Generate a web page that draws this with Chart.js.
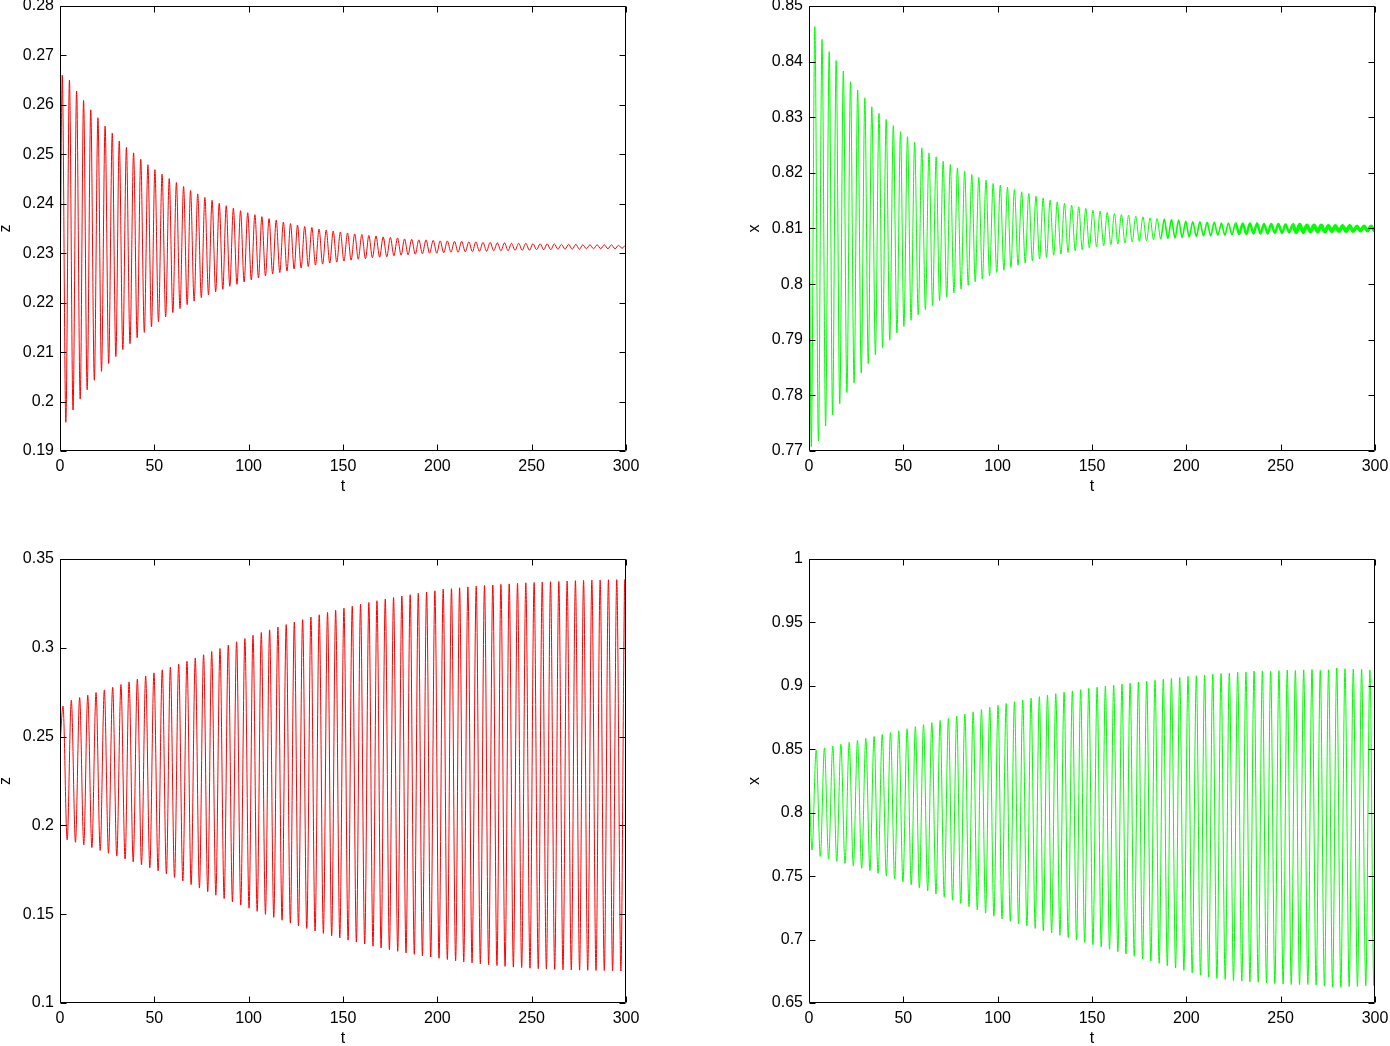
<!DOCTYPE html>
<html lang="en">
<head>
<meta charset="UTF-8">
<title>z and x against t</title>
<script src="https://cdn.jsdelivr.net/npm/chart.js"></script>
<style>
  html, body { margin: 0; padding: 0; background: #fff; overflow: hidden; }
  body { width: 1390px; height: 1046px; position: relative; }
  canvas { position: absolute; }
</style>
</head>
<body>
<canvas id="c1" width="652" height="500" style="left:-2px;top:0"></canvas>
<canvas id="c2" width="650" height="500" style="left:740px;top:0"></canvas>
<canvas id="c3" width="652" height="500" style="left:-2px;top:550px"></canvas>
<canvas id="c4" width="650" height="500" style="left:740px;top:550px"></canvas>
<script>
// times of the turning points (start, extremes..., end), top row and bottom row
const topT = [0, 1.2, 3.1, 5.0, 6.9, 8.8, 10.7, 12.5, 14.4, 16.3, 18.2, 20.1, 22.0, 23.9, 25.8, 27.7, 29.6, 31.4, 33.3, 35.2, 37.1,
  39.0, 40.9, 42.8, 44.7, 46.6, 48.5, 50.3, 52.2, 54.1, 56.0, 57.9, 59.8, 61.7, 63.6, 65.5, 67.4, 69.2, 71.1, 73.0, 74.9,
  76.8, 78.7, 80.6, 82.5, 84.4, 86.3, 88.1, 90.0, 91.9, 93.8, 95.7, 97.6, 99.5, 101.4, 103.3, 105.2, 107.0, 108.9, 110.8, 112.7,
  114.6, 116.5, 118.4, 120.3, 122.2, 124.1, 125.9, 127.8, 129.7, 131.6, 133.5, 135.4, 137.3, 139.2, 141.1, 143.0, 144.8, 146.7, 148.6, 150.5,
  152.4, 154.3, 156.2, 158.1, 160.0, 161.9, 163.7, 165.6, 167.5, 169.4, 171.3, 173.2, 175.1, 177.0, 178.9, 180.8, 182.6, 184.5, 186.4, 188.3,
  190.2, 192.1, 194.0, 195.9, 197.8, 199.7, 201.5, 203.4, 205.3, 207.2, 209.1, 211.0, 212.9, 214.8, 216.7, 218.6, 220.4, 222.3, 224.2, 226.1,
  228.0, 229.9, 231.8, 233.7, 235.6, 237.5, 239.3, 241.2, 243.1, 245.0, 246.9, 248.8, 250.7, 252.6, 254.5, 256.4, 258.2, 260.1, 262.0, 263.9,
  265.8, 267.7, 269.6, 271.5, 273.4, 275.3, 277.1, 279.0, 280.9, 282.8, 284.7, 286.6, 288.5, 290.4, 292.3, 294.2, 296.0, 297.9, 299.8, 300];

const botT = [0, 1.6, 3.8, 6.0, 8.2, 10.4, 12.6, 14.7, 16.9, 19.1, 21.3, 23.5, 25.7, 27.9, 30.1, 32.3, 34.5, 36.6, 38.8, 41.0, 43.2,
  45.4, 47.6, 49.8, 52.0, 54.2, 56.4, 58.5, 60.7, 62.9, 65.1, 67.3, 69.5, 71.7, 73.9, 76.1, 78.3, 80.4, 82.6, 84.8, 87.0,
  89.2, 91.4, 93.6, 95.8, 98.0, 100.2, 102.3, 104.5, 106.7, 108.9, 111.1, 113.3, 115.5, 117.7, 119.9, 122.1, 124.2, 126.4, 128.6, 130.8,
  133.0, 135.2, 137.4, 139.6, 141.8, 144.0, 146.1, 148.3, 150.5, 152.7, 154.9, 157.1, 159.3, 161.5, 163.7, 165.9, 168.0, 170.2, 172.4, 174.6,
  176.8, 179.0, 181.2, 183.4, 185.6, 187.8, 189.9, 192.1, 194.3, 196.5, 198.7, 200.9, 203.1, 205.3, 207.5, 209.7, 211.8, 214.0, 216.2, 218.4,
  220.6, 222.8, 225.0, 227.2, 229.4, 231.6, 233.7, 235.9, 238.1, 240.3, 242.5, 244.7, 246.9, 249.1, 251.3, 253.5, 255.6, 257.8, 260.0, 262.2,
  264.4, 266.6, 268.8, 271.0, 273.2, 275.4, 277.5, 279.7, 281.9, 284.1, 286.3, 288.5, 290.7, 292.9, 295.1, 297.3, 299.4, 300];

// top left: z, decaying
const zTopStart = 0.22, zTopEnd = 0.2316;
const zTopPeaks = [0.2660, 0.2650, 0.2628, 0.2609, 0.2590, 0.2574, 0.2557, 0.2543, 0.2527, 0.2514,
  0.2503, 0.2490, 0.2479, 0.2469, 0.2460, 0.2451, 0.2443, 0.2435, 0.2427, 0.2420,
  0.2413, 0.2407, 0.2401, 0.2396, 0.2391, 0.2386, 0.2382, 0.2378, 0.2374, 0.2370,
  0.2367, 0.2363, 0.2360, 0.2357, 0.2354, 0.2352, 0.2349, 0.2347, 0.2345, 0.2343,
  0.2341, 0.2339, 0.2338, 0.2336, 0.2335, 0.2333, 0.2332, 0.2331, 0.2329, 0.2328,
  0.2327, 0.2327, 0.2326, 0.2325, 0.2325, 0.2324, 0.2324, 0.2323, 0.2323, 0.2322,
  0.2322, 0.2321, 0.2321, 0.2320, 0.2320, 0.2320, 0.2319, 0.2319, 0.2319, 0.2319,
  0.2318, 0.2318, 0.2318, 0.2317, 0.2317, 0.2317, 0.2317, 0.2317, 0.2316, 0.2316];
const zTopTroughs = [0.1958, 0.1983, 0.2005, 0.2024, 0.2043, 0.2061, 0.2077, 0.2091, 0.2105, 0.2117,
  0.2129, 0.2140, 0.2151, 0.2161, 0.2171, 0.2180, 0.2188, 0.2196, 0.2203, 0.2210,
  0.2216, 0.2222, 0.2227, 0.2233, 0.2237, 0.2242, 0.2246, 0.2250, 0.2254, 0.2258,
  0.2261, 0.2264, 0.2268, 0.2270, 0.2273, 0.2276, 0.2278, 0.2280, 0.2282, 0.2284,
  0.2286, 0.2288, 0.2289, 0.2291, 0.2292, 0.2293, 0.2295, 0.2296, 0.2297, 0.2298,
  0.2299, 0.2300, 0.2300, 0.2301, 0.2302, 0.2302, 0.2303, 0.2303, 0.2304, 0.2304,
  0.2305, 0.2305, 0.2305, 0.2306, 0.2306, 0.2306, 0.2307, 0.2307, 0.2307, 0.2308,
  0.2308, 0.2308, 0.2308, 0.2309, 0.2309, 0.2309, 0.2309, 0.2309, 0.2310];

// top right: x, decaying
const xTopStart = 0.830, xTopEnd = 0.8098;
const xTopTroughs = [0.7708, 0.7718, 0.7745, 0.7765, 0.7785, 0.7805, 0.7822, 0.7840, 0.7857, 0.7873,
  0.7886, 0.7899, 0.7912, 0.7924, 0.7935, 0.7945, 0.7954, 0.7962, 0.7970, 0.7977,
  0.7984, 0.7991, 0.7998, 0.8004, 0.8009, 0.8015, 0.8021, 0.8025, 0.8030, 0.8034,
  0.8038, 0.8042, 0.8045, 0.8048, 0.8052, 0.8054, 0.8057, 0.8060, 0.8062, 0.8065,
  0.8067, 0.8069, 0.8071, 0.8072, 0.8074, 0.8076, 0.8077, 0.8078, 0.8080, 0.8081,
  0.8082, 0.8083, 0.8084, 0.8085, 0.8086, 0.8087, 0.8087, 0.8088, 0.8088, 0.8089,
  0.8090, 0.8090, 0.8091, 0.8091, 0.8091, 0.8092, 0.8092, 0.8093, 0.8093, 0.8093,
  0.8094, 0.8094, 0.8094, 0.8095, 0.8095, 0.8095, 0.8095, 0.8096, 0.8096, 0.8096];
const xTopPeaks = [0.8463, 0.8440, 0.8418, 0.8402, 0.8383, 0.8364, 0.8349, 0.8335, 0.8319, 0.8307,
  0.8296, 0.8285, 0.8274, 0.8265, 0.8255, 0.8245, 0.8236, 0.8229, 0.8221, 0.8215,
  0.8209, 0.8203, 0.8197, 0.8192, 0.8187, 0.8181, 0.8178, 0.8174, 0.8170, 0.8166,
  0.8163, 0.8158, 0.8155, 0.8151, 0.8148, 0.8145, 0.8142, 0.8139, 0.8136, 0.8133,
  0.8131, 0.8129, 0.8127, 0.8125, 0.8124, 0.8122, 0.8121, 0.8119, 0.8118, 0.8117,
  0.8116, 0.8115, 0.8113, 0.8112, 0.8112, 0.8111, 0.8111, 0.8110, 0.8110, 0.8110,
  0.8109, 0.8109, 0.8109, 0.8108, 0.8108, 0.8108, 0.8107, 0.8107, 0.8107, 0.8106,
  0.8106, 0.8106, 0.8105, 0.8105, 0.8105, 0.8105, 0.8104, 0.8104, 0.8104];

// bottom left: z, growing
const zBotStart = 0.245, zBotEnd = 0.20;
const zBotPeaks = [0.2672, 0.2705, 0.2720, 0.2733, 0.2748, 0.2763, 0.2778, 0.2793, 0.2808, 0.2824,
  0.2841, 0.2859, 0.2876, 0.2892, 0.2908, 0.2924, 0.2943, 0.2961, 0.2979, 0.2996,
  0.3015, 0.3034, 0.3052, 0.3070, 0.3086, 0.3101, 0.3116, 0.3131, 0.3145, 0.3159,
  0.3173, 0.3186, 0.3199, 0.3211, 0.3223, 0.3234, 0.3245, 0.3255, 0.3265, 0.3274,
  0.3283, 0.3291, 0.3299, 0.3307, 0.3314, 0.3321, 0.3330, 0.3333, 0.3338, 0.3343,
  0.3347, 0.3351, 0.3354, 0.3357, 0.3360, 0.3363, 0.3366, 0.3368, 0.3370, 0.3372,
  0.3374, 0.3376, 0.3378, 0.3380, 0.3381, 0.3382, 0.3383, 0.3384, 0.3385];
const zBotTroughs = [0.1918, 0.1905, 0.1890, 0.1875, 0.1859, 0.1843, 0.1827, 0.1811, 0.1795, 0.1778,
  0.1761, 0.1744, 0.1726, 0.1707, 0.1687, 0.1667, 0.1647, 0.1627, 0.1607, 0.1588,
  0.1569, 0.1551, 0.1534, 0.1516, 0.1499, 0.1482, 0.1466, 0.1450, 0.1435, 0.1420,
  0.1406, 0.1392, 0.1379, 0.1367, 0.1354, 0.1343, 0.1332, 0.1320, 0.1310, 0.1300,
  0.1291, 0.1282, 0.1274, 0.1266, 0.1259, 0.1252, 0.1245, 0.1238, 0.1232, 0.1226,
  0.1221, 0.1216, 0.1211, 0.1206, 0.1202, 0.1199, 0.1196, 0.1193, 0.1191, 0.1189,
  0.1187, 0.1186, 0.1185, 0.1184, 0.1183, 0.1182, 0.1181, 0.1180];

// bottom right: x, growing
const xBotStart = 0.830, xBotEnd = 0.75;
const xBotTroughs = [0.7706, 0.7655, 0.7636, 0.7618, 0.7600, 0.7581, 0.7562, 0.7543, 0.7522, 0.7500,
  0.7478, 0.7455, 0.7431, 0.7407, 0.7384, 0.7360, 0.7335, 0.7310, 0.7285, 0.7260,
  0.7234, 0.7208, 0.7184, 0.7162, 0.7144, 0.7125, 0.7107, 0.7088, 0.7070, 0.7052,
  0.7033, 0.7015, 0.6996, 0.6978, 0.6960, 0.6941, 0.6923, 0.6904, 0.6886, 0.6868,
  0.6849, 0.6831, 0.6812, 0.6794, 0.6776, 0.6757, 0.6738, 0.6719, 0.6704, 0.6693,
  0.6685, 0.6677, 0.6672, 0.6667, 0.6664, 0.6659, 0.6654, 0.6651, 0.6646, 0.6646,
  0.6646, 0.6641, 0.6633, 0.6625, 0.6625, 0.6630, 0.6630, 0.6636, 0.6636];
const xBotPeaks = [0.8494, 0.8511, 0.8526, 0.8540, 0.8555, 0.8571, 0.8586, 0.8601, 0.8616, 0.8631,
  0.8646, 0.8662, 0.8678, 0.8694, 0.8710, 0.8727, 0.8744, 0.8761, 0.8778, 0.8795,
  0.8813, 0.8831, 0.8846, 0.8861, 0.8875, 0.8889, 0.8902, 0.8915, 0.8927, 0.8939,
  0.8950, 0.8960, 0.8970, 0.8980, 0.8989, 0.8998, 0.9006, 0.9014, 0.9022, 0.9030,
  0.9037, 0.9044, 0.9052, 0.9059, 0.9066, 0.9075, 0.9080, 0.9084, 0.9092, 0.9098,
  0.9102, 0.9108, 0.9108, 0.9116, 0.9118, 0.9115, 0.9120, 0.9124, 0.9121, 0.9126,
  0.9130, 0.9122, 0.9127, 0.9140, 0.9135, 0.9132, 0.9130, 0.9126];

// axis ticks
const tTicks = [0, 50, 100, 150, 200, 250, 300];
const zTopTicks = [0.19, 0.2, 0.21, 0.22, 0.23, 0.24, 0.25, 0.26, 0.27, 0.28];
const xTopTicks = [0.77, 0.78, 0.79, 0.8, 0.81, 0.82, 0.83, 0.84, 0.85];
const zBotTicks = [0.1, 0.15, 0.2, 0.25, 0.3, 0.35];
const xBotTicks = [0.65, 0.7, 0.75, 0.8, 0.85, 0.9, 0.95, 1];

const font = { family: "'Liberation Sans', Arial, Helvetica, sans-serif", size: 16 };

// alternate the two lists of turning points along the time list
function series(times, start, first, second, end) {
  const pts = [{ x: times[0], y: start }];
  for (let k = 0; k < times.length - 2; k++) {
    const y = k % 2 === 0 ? first[k / 2] : second[(k - 1) / 2];
    if (y === undefined) break;
    pts.push({ x: times[k + 1], y: y });
  }
  pts.push({ x: times[times.length - 1], y: end });
  return pts;
}

// matlab-like box with inward ticks on all four sides
const boxTicks = {
  id: 'boxTicks',
  afterDraw(chart) {
    const { ctx, chartArea: a, scales } = chart;
    const L = Math.round(a.left) + 0.5, R = Math.round(a.right) - 0.5;
    const T = Math.round(a.top) + 0.5, B = Math.round(a.bottom) - 0.5;
    ctx.save();
    ctx.strokeStyle = '#000';
    ctx.lineWidth = 1;
    ctx.beginPath();
    ctx.rect(L, T, R - L, B - T);
    scales.x.ticks.forEach(t => {
      const p = Math.round(scales.x.getPixelForValue(t.value)) + 0.5;
      ctx.moveTo(p, B); ctx.lineTo(p, B - 6);
      ctx.moveTo(p, T); ctx.lineTo(p, T + 6);
    });
    scales.y.ticks.forEach(t => {
      const p = Math.round(scales.y.getPixelForValue(t.value)) + 0.5;
      ctx.moveTo(L, p); ctx.lineTo(L + 6, p);
      ctx.moveTo(R, p); ctx.lineTo(R - 6, p);
    });
    ctx.stroke();
    ctx.restore();
  }
};

function makeChart(id, cfg) {
  new Chart(document.getElementById(id), {
    type: 'line',
    data: {
      datasets: [{
        data: cfg.points,
        borderColor: cfg.color,
        borderWidth: 1,
        pointRadius: 0,
        fill: false,
        cubicInterpolationMode: 'monotone',
        segment: cfg.segment || {}
      }]
    },
    options: {
      responsive: false,
      animation: false,
      events: [],
      layout: { padding: cfg.padding },
      plugins: { legend: { display: false }, tooltip: { enabled: false } },
      scales: {
        x: {
          type: 'linear', min: 0, max: 300,
          afterBuildTicks: s => { s.ticks = tTicks.map(v => ({ value: v })); },
          afterFit: s => { s.height = 44; s.paddingLeft = 0; s.paddingRight = 0; },
          grid: { display: false, drawTicks: false },
          border: { display: false },
          ticks: { color: '#000', font: font, padding: 6, maxRotation: 0, autoSkip: false, callback: v => String(v) },
          title: { display: true, text: 't', color: '#000', font: { ...font, lineHeight: 1 }, padding: 0 }
        },
        y: {
          type: 'linear', min: cfg.yTicks[0], max: cfg.yTicks[cfg.yTicks.length - 1],
          afterBuildTicks: s => { s.ticks = cfg.yTicks.map(v => ({ value: v })); },
          afterFit: s => { s.width = cfg.yWidth; s.paddingTop = 0; s.paddingBottom = 0; },
          grid: { display: false, drawTicks: false },
          border: { display: false },
          ticks: { color: '#000', font: font, padding: 6, autoSkip: false, callback: v => String(v) },
          title: { display: true, text: cfg.yTitle, color: '#000', font: { ...font, lineHeight: 1 }, padding: { top: cfg.titlePad, bottom: 0 } }
        }
      }
    },
    plugins: [boxTicks]
  });
}

makeChart('c1', {
  points: series(topT, zTopStart, zTopPeaks, zTopTroughs, zTopEnd),
  color: '#ff0000', yTicks: zTopTicks, yTitle: 'z', yWidth: 62, titlePad: 0,
  padding: { left: 0, top: 6, right: 24, bottom: 5 }
});

makeChart('c2', {
  points: series(topT, xTopStart, xTopTroughs, xTopPeaks, xTopEnd),
  color: '#00ff00', yTicks: xTopTicks, yTitle: 'x', yWidth: 69, titlePad: 7,
  padding: { left: 0, top: 6, right: 15, bottom: 5 },
  // the trace gets visibly thicker once it settles
  segment: { borderWidth: c => { const t = c.p0.parsed.x; return t > 255 ? 3.5 : t > 225 ? 2.5 : t > 185 ? 1.6 : 1; } }
});

makeChart('c3', {
  points: series(botT, zBotStart, zBotPeaks, zBotTroughs, zBotEnd),
  color: '#ff0000', yTicks: zBotTicks, yTitle: 'z', yWidth: 62, titlePad: 0,
  padding: { left: 0, top: 9, right: 24, bottom: 3 }
});

makeChart('c4', {
  points: series(botT, xBotStart, xBotTroughs, xBotPeaks, xBotEnd),
  color: '#00ff00', yTicks: xBotTicks, yTitle: 'x', yWidth: 69, titlePad: 7,
  padding: { left: 0, top: 9, right: 15, bottom: 3 }
});
</script>
</body>
</html>
